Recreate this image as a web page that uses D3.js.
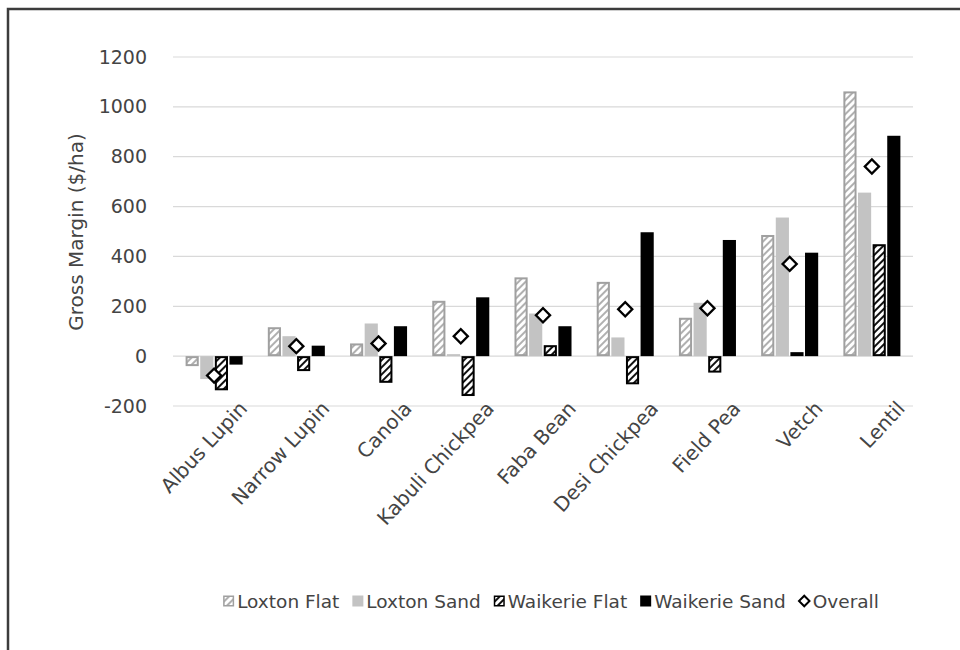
<!DOCTYPE html>
<html>
<head>
<meta charset="utf-8">
<script src="https://cdn.jsdelivr.net/npm/d3@7"></script>
<style>
  html, body { margin: 0; padding: 0; background: #fff; }
  svg { display: block; }
  text { font-family: "DejaVu Sans", sans-serif; fill: #444; }
</style>
</head>
<body>
<svg id="chart" width="960" height="650"></svg>
<script>
// Gross margin ($/ha) by crop and site
const categories = ["Albus Lupin", "Narrow Lupin", "Canola", "Kabuli Chickpea", "Faba Bean",
                    "Desi Chickpea", "Field Pea", "Vetch", "Lentil"];
const seriesNames = ["Loxton Flat", "Loxton Sand", "Waikerie Flat", "Waikerie Sand"];
const loxtonFlat   = [-40, 116, 51, 222, 316, 298, 154, 486, 1062];
const loxtonSand   = [-92, 80, 131, 8, 171, 75, 214, 556, 656];
const waikerieFlat = [-137, -60, -107, -160, 44, -113, -66, 16, 449];
const waikerieSand = [-34, 42, 120, 236, 120, 497, 466, 415, 884];
const overall      = [-78, 40, 51, 80, 164, 188, 192, 370, 761];
const yTicks = [-200, 0, 200, 400, 600, 800, 1000, 1200];
const yTitle = "Gross Margin ($/ha)";

const seriesValues = [loxtonFlat, loxtonSand, waikerieFlat, waikerieSand];

const svg = d3.select("#chart");
const plot = { left: 173, right: 913, top: 57, bottom: 406 };

// Fill patterns for the hatched series
const defs = svg.append("defs");
function hatch(id, color, width) {
  const p = defs.append("pattern")
    .attr("id", id)
    .attr("patternUnits", "userSpaceOnUse")
    .attr("width", 5).attr("height", 5)
    .attr("patternTransform", "rotate(45)");
  p.append("rect").attr("width", 5).attr("height", 5).attr("fill", "#fff");
  p.append("line").attr("x1", 1).attr("y1", 0).attr("x2", 1).attr("y2", 5)
    .attr("stroke", color).attr("stroke-width", width);
}
hatch("hatchLight", "#b0b0b0", 2);
hatch("hatchDark", "#111", 2);

const styles = {
  "Loxton Flat":   { fill: "url(#hatchLight)", stroke: "#a0a0a0", sw: 2 },
  "Loxton Sand":   { fill: "#c3c3c3", stroke: "none", sw: 0 },
  "Waikerie Flat": { fill: "url(#hatchDark)", stroke: "#000", sw: 2 },
  "Waikerie Sand": { fill: "#000", stroke: "none", sw: 0 }
};

// Outer chart frame
svg.append("path")
  .attr("d", "M8,650 L8,9 L960,9")
  .attr("fill", "none").attr("stroke", "#3c3c3c").attr("stroke-width", 2.5);

const x0 = d3.scaleBand().domain(categories).range([plot.left, plot.right]);
const x1 = d3.scaleBand().domain(seriesNames)
  .range([12.6, x0.bandwidth() - 12.6]).paddingInner(0.1);
const y = d3.scaleLinear().domain([-200, 1200]).range([plot.bottom, plot.top]);

// Gridlines
svg.append("g").selectAll("line").data(yTicks).join("line")
  .attr("x1", plot.left).attr("x2", plot.right)
  .attr("y1", d => y(d)).attr("y2", d => y(d))
  .attr("stroke", "#d9d9d9").attr("stroke-width", 1.2);

// Y axis labels
const yAxis = d3.axisLeft(y).tickValues(yTicks).tickSize(0).tickPadding(0)
  .tickFormat(d => String(d));
svg.append("g").attr("transform", `translate(147,0)`).call(yAxis)
  .call(g => g.select(".domain").remove())
  .selectAll("text").attr("font-size", 19).attr("fill", "#444")
  .attr("font-family", "DejaVu Sans, sans-serif");

// Y axis title
svg.append("text")
  .attr("transform", `translate(83,232) rotate(-90)`)
  .attr("text-anchor", "middle")
  .attr("font-size", 20)
  .text(yTitle);

// Bars
const rows = categories.map((c, i) => ({ cat: c, vals: seriesNames.map((s, k) => ({ s, v: seriesValues[k][i] })) }));
const groups = svg.append("g").selectAll("g").data(rows).join("g")
  .attr("transform", d => `translate(${x0(d.cat)},0)`);
groups.selectAll("rect").data(d => d.vals).join("rect")
  .attr("x", d => x1(d.s) + styles[d.s].sw / 2)
  .attr("width", d => x1.bandwidth() - styles[d.s].sw)
  .attr("y", d => Math.min(y(d.v), y(0)) + styles[d.s].sw / 2)
  .attr("height", d => Math.max(0, Math.abs(y(d.v) - y(0)) - styles[d.s].sw))
  .attr("fill", d => styles[d.s].fill)
  .attr("stroke", d => styles[d.s].stroke)
  .attr("stroke-width", d => styles[d.s].sw);

// Overall markers
const diamond = d3.symbol().type(d3.symbolSquare).size(100);
svg.append("g").selectAll("path").data(categories).join("path")
  .attr("d", diamond)
  .attr("transform", (c, i) => `translate(${x0(c) + x0.bandwidth() / 2},${y(overall[i])}) rotate(45)`)
  .attr("fill", "#fff").attr("stroke", "#000").attr("stroke-width", 2.3);

// Category labels
svg.append("g").selectAll("text").data(categories).join("text")
  .attr("transform", c => `translate(${x0(c) + x0.bandwidth() / 2 + 24},${400}) rotate(-47)`)
  .attr("text-anchor", "end")
  .attr("dy", "0.7em")
  .attr("font-size", 20)
  .text(c => c);

// Legend
const legendItems = seriesNames.concat(["Overall"]);
const legend = svg.append("g").attr("transform", "translate(0,601)");
const items = legend.selectAll("g").data(legendItems).join("g");
items.append("text").attr("x", 14).attr("y", 6.8).attr("font-size", 18.5).text(d => d);
items.each(function (d) {
  const g = d3.select(this);
  if (d === "Overall") {
    g.append("path").attr("d", d3.symbol().type(d3.symbolSquare).size(55))
      .attr("transform", "translate(5.5,0) rotate(45)")
      .attr("fill", "#fff").attr("stroke", "#000").attr("stroke-width", 2);
  } else {
    const st = styles[d];
    const sw = Math.min(st.sw, 1.5);
    g.append("rect").attr("x", sw / 2).attr("y", -5.5 + sw / 2)
      .attr("width", 11 - sw).attr("height", 11 - sw)
      .attr("fill", st.fill).attr("stroke", st.stroke).attr("stroke-width", sw);
  }
});
let cursor = 0;
const gap = 13;
const widths = [];
items.each(function () {
  widths.push(14 + d3.select(this).select("text").node().getComputedTextLength());
});
const total = d3.sum(widths) + gap * (widths.length - 1);
cursor = 551 - total / 2;
items.attr("transform", (d, i) => {
  const t = `translate(${cursor},0)`;
  cursor += widths[i] + gap;
  return t;
});
</script>
</body>
</html>
